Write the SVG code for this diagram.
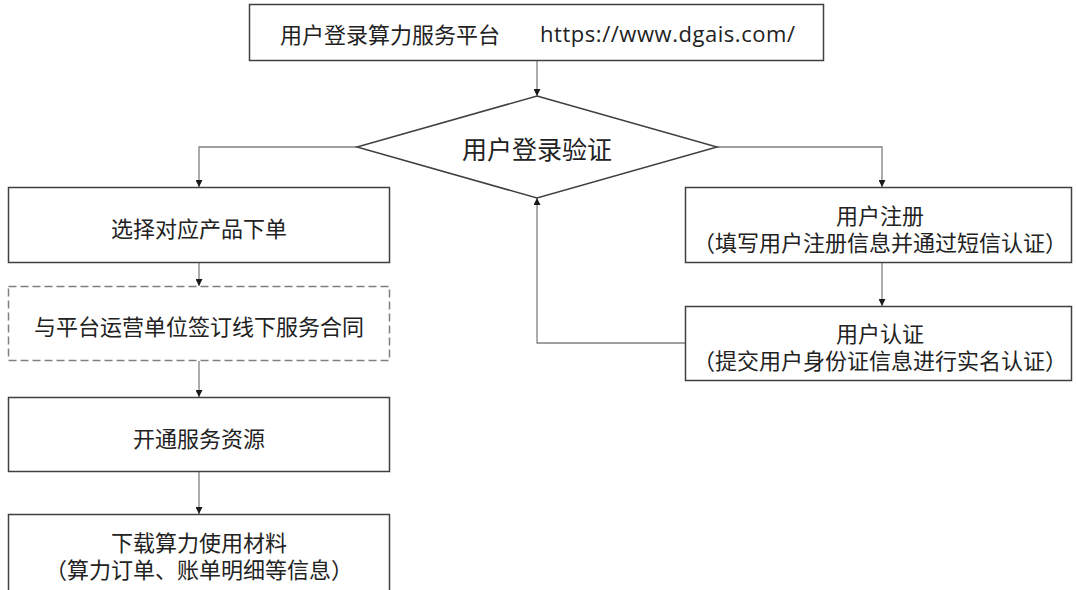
<svg xmlns="http://www.w3.org/2000/svg" width="1076" height="590" viewBox="0 0 1076 590">
<style>
.box{fill:#ffffff;stroke:#404040;stroke-width:1.5}
.dash{fill:#ffffff;stroke:#7f7f7f;stroke-width:1.5;stroke-dasharray:8 4}
.conn{fill:none;stroke:#808080;stroke-width:1.3}
text{font-family:"Microsoft YaHei","Noto Sans CJK SC","Noto Sans",sans-serif;font-size:22px;fill:#222222;text-anchor:middle;dominant-baseline:central}
.dia{font-size:25px}
.url{font-family:"Open Sans","Noto Sans",sans-serif;text-anchor:start}
</style>
<defs>
<marker id="arr" viewBox="0 0 10 10" refX="10" refY="5" markerWidth="7" markerHeight="7" markerUnits="userSpaceOnUse" orient="auto">
<path d="M0,0 L10,5 L0,10 z" fill="#1a1a1a"/>
</marker>
</defs>
<rect width="1076" height="590" fill="#ffffff"/>
<g id="connectors">
<path class="conn" d="M537,60 L537,96" marker-end="url(#arr)"/>
<path class="conn" d="M357,147 L199,147 L199,187" marker-end="url(#arr)"/>
<path class="conn" d="M717,147 L882,147 L882,187" marker-end="url(#arr)"/>
<path class="conn" d="M199,263 L199,286" marker-end="url(#arr)"/>
<path class="conn" d="M199,361 L199,397" marker-end="url(#arr)"/>
<path class="conn" d="M199,472 L199,514" marker-end="url(#arr)"/>
<path class="conn" d="M882,263 L882,306" marker-end="url(#arr)"/>
<path class="conn" d="M685,343 L537,343 L537,198" marker-end="url(#arr)"/>
</g>
<g id="n-platform">
<rect class="box" x="249.5" y="4.5" width="574" height="56"/>
<text x="390" y="33">用户登录算力服务平台</text>
<text class="url" x="540" y="33" textLength="255" lengthAdjust="spacing">https://www.dgais.com/</text>
</g>
<g id="n-verify">
<polygon class="box" points="537,96 717,147 537,198 357,147"/>
<text class="dia" x="537" y="148">用户登录验证</text>
</g>
<g id="n-order">
<rect class="box" x="8.5" y="187.5" width="381" height="75"/>
<text x="199" y="227">选择对应产品下单</text>
</g>
<g id="n-contract">
<rect class="dash" x="8.5" y="286.5" width="381" height="74"/>
<text x="199" y="325">与平台运营单位签订线下服务合同</text>
</g>
<g id="n-open">
<rect class="box" x="8.5" y="397.5" width="381" height="74"/>
<text x="199" y="437">开通服务资源</text>
</g>
<g id="n-download">
<rect class="box" x="8.5" y="514.5" width="381" height="80"/>
<text x="199" y="541"><tspan x="199" y="541">下载算力使用材料</tspan><tspan x="199" y="568">（算力订单、账单明细等信息）</tspan></text>
</g>
<g id="n-register">
<rect class="box" x="685.5" y="187.5" width="386" height="75"/>
<text x="880" y="214"><tspan x="880" y="214">用户注册</tspan><tspan x="880" y="241">（填写用户注册信息并通过短信认证）</tspan></text>
</g>
<g id="n-auth">
<rect class="box" x="685.5" y="306.5" width="386" height="74"/>
<text x="880" y="332"><tspan x="880" y="332">用户认证</tspan><tspan x="880" y="359">（提交用户身份证信息进行实名认证）</tspan></text>
</g>
</svg>
